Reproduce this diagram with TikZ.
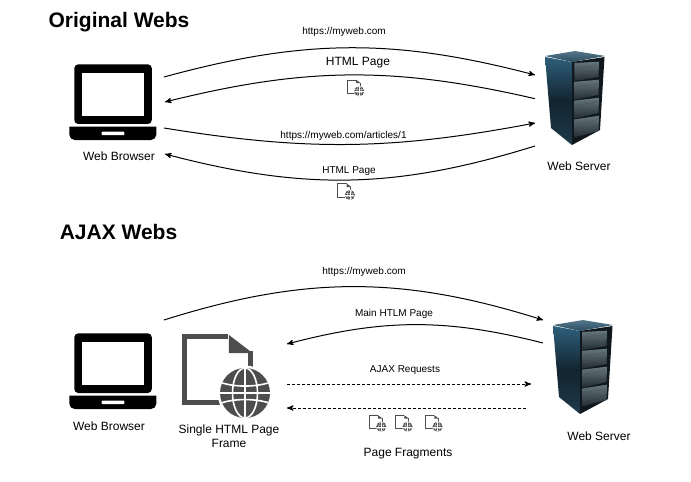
\documentclass[tikz,border=0pt]{standalone}
\usepackage{fontspec}
\setmainfont{Liberation Sans}
\usetikzlibrary{arrows}
\definecolor{pagegray}{HTML}{4D4D4D}
\definecolor{racktop}{HTML}{55788C}
\definecolor{racktopb}{HTML}{2C4C60}
\definecolor{rackhi}{HTML}{2F5F7C}
\definecolor{rackmid}{HTML}{12242F}
\definecolor{racklow}{HTML}{1F3A4A}
\definecolor{rackface}{HTML}{11181D}
\definecolor{bayhi}{HTML}{66767E}
\definecolor{baylow}{HTML}{222C32}
\tikzstyle{big}=[font={\fontsize{9pt}{10.5pt}\selectfont},align=center,inner sep=0pt]
\tikzstyle{small}=[font={\fontsize{7.5pt}{9pt}\selectfont},inner sep=0pt]
\tikzstyle{title}=[font={\fontsize{15.75pt}{18pt}\selectfont\bfseries},inner sep=0pt]
\tikzstyle{conn}=[line width=0.75pt,>=stealth']
\tikzstyle{dashconn}=[conn,dash pattern=on 2.25pt off 1.5pt]
\tikzset{
  pics/laptop/.style={code={
    \fill[black,rounded corners=3pt] (0,0) rectangle (77.5,59.7);
    \fill[white] (8,8.4) rectangle (69.4,51.4);
    \fill[black] (-5,62.4) -- (82,62.4) {[rounded corners=4pt] -- (82,75.7) -- (-5,75.7)} -- cycle;
    \fill[white,rounded corners=0.5pt] (27.4,67.4) rectangle (50,70.7);
  }},
  pics/rack/.style={code={
    \shade[top color=racktop,bottom color=racktopb] (0,5) -- (30,0) -- (60,5) -- (27,11) -- cycle;
    \shade[top color=rackhi,bottom color=racklow,middle color=rackmid] (0,6) -- (27,11) -- (27,94) -- (6,77) -- cycle;
    \fill[rackface] (27,11) -- (59.5,6) -- (55,79) -- (27,94) -- cycle;
    \foreach \i in {0,1,2,3} {
      \shade[top color=bayhi,bottom color=baylow] (29.3,{12+18.8*\i}) -- (54,{10.7+18*\i}) -- (53.5,{26+18*\i}) -- (29.3,{30+18.8*\i}) -- cycle;
      \draw[black!70,line width=0.3pt,dash pattern=on 1pt off 0.6pt] (31,{17+18.8*\i}) -- (52.5,{14.5+18*\i});
      \draw[black!70,line width=0.3pt,dash pattern=on 1pt off 0.6pt] (31,{24+18.8*\i}) -- (52,{21+18*\i});
    }
  }},
  pics/webpage/.style={code={
    \begin{scope}[scale=#1]
      \draw[pagegray,line width=#1*3.4pt] (46,2.3) -- (2.3,2.3) -- (2.3,68.4) -- (40,68.4);
      \draw[pagegray,line width=#1*3.4pt] (68,17) -- (68,42);
      \fill[pagegray] (46.5,0.6) -- (70.2,18.7) -- (46.5,18.7) -- cycle;
      \fill[white] (62.7,58.7) circle (27.5);
      \fill[pagegray] (62.7,58.7) circle (25);
      \begin{scope}
        \clip (62.7,58.7) circle (25);
        \draw[white,line width=#1*1.2pt] (62.7,32) -- (62.7,85) (36,58.7) -- (90,58.7);
        \draw[white,line width=#1*1.2pt] (62.7,58.7) ellipse (12.5 and 25);
        \draw[white,line width=#1*1.2pt] (38,48) .. controls (52,53) and (73,53) .. (88,48);
        \draw[white,line width=#1*1.2pt] (38,69) .. controls (52,64) and (73,64) .. (88,69);
      \end{scope}
    \end{scope}
  }}
}
\begin{document}
\begin{tikzpicture}[x=0.75pt,y=-0.75pt]
  \useasboundingbox (0,0) rectangle (691,481);

  \node [title] (t1) at (119,22.5) {Original Webs};
  \pic (lap1) at (74.3,64.3) {laptop};
  \node [big] (b1) at (119,156) {Web Browser};
  \pic (srv1) at (545,51) {rack};
  \node [big] (s1) at (579,166) {Web Server};

  \coordinate (a1) at (164,77);
  \coordinate (a2) at (535,75);
  \coordinate (a3) at (535,98.7);
  \coordinate (a4) at (165,102);
  \coordinate (a5) at (164,128);
  \coordinate (a6) at (535,123);
  \coordinate (a7) at (535,146);
  \coordinate (a8) at (165,154);

  \node [small] (l1) at (344,31.5) {https://myweb.com};
  \node [big] (l2) at (358,63) {HTML Page};
  \pic (p1) at (346.7,79.5) {webpage=0.2};
  \node [small] (l3) at (343.5,136) {https://myweb.com/articles/1};
  \node [small] (l4) at (349,171.5) {HTML Page};
  \pic (p2) at (337.3,183.3) {webpage=0.2};

  \path[conn,->] (a1) edge [bend left=15] (a2);
  \path[conn,->] (a3) edge [bend right=13.5] (a4);
  \path[conn,->] (a5) edge [bend right=10] (a6);
  \path[conn,->] (a7) edge [bend left=16] (a8);

  % lower half
  \node [title] (t2) at (118.5,231.5) {AJAX Webs};
  \pic (lap2) at (74.3,333.3) {laptop};
  \node [big] (b2) at (109,426) {Web Browser};
  \pic (doc) at (182.3,334.3) {webpage=1};
  \node [big] (d) at (229,436) {Single HTML Page\\Frame};
  \pic (srv2) at (553,320) {rack};
  \node [big] (s2) at (599,436) {Web Server};

  \coordinate (c1) at (164,320);
  \coordinate (c2) at (543,320);
  \coordinate (c3) at (543,343);
  \coordinate (c4) at (287,344);
  \coordinate (c5) at (287,384);
  \coordinate (c6) at (531,384);
  \coordinate (c7) at (526,408);
  \coordinate (c8) at (287,408);

  \node [small] (m1) at (364,271.5) {https://myweb.com};
  \node [small] (m2) at (394,313.5) {Main HTLM Page};
  \node [small] (m3) at (405,370.5) {AJAX Requests};
  \pic (f1) at (368.7,415) {webpage=0.2};
  \pic (f2) at (395,415) {webpage=0.2};
  \pic (f3) at (425,415) {webpage=0.2};
  \node [big] (m4) at (408,453.5) {Page Fragments};

  \path[conn,->] (c1) edge [bend left=17.5] (c2);
  \path[conn,->] (c3) edge [bend right=14.5] (c4);
  \path[dashconn,->] (c5) edge (c6);
  \path[dashconn,->] (c7) edge (c8);
\end{tikzpicture}
\end{document}
